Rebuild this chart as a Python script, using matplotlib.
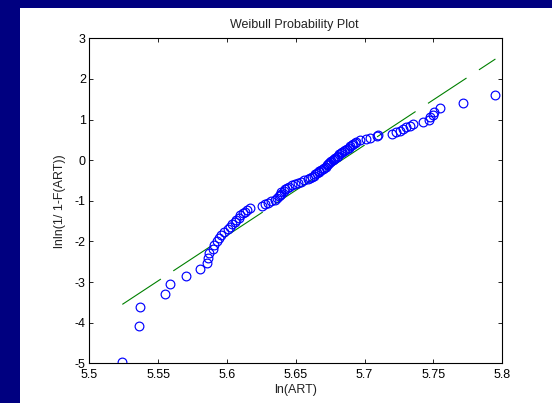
import matplotlib
matplotlib.use("Agg")
import matplotlib.pyplot as plt
from matplotlib.patches import Rectangle

plt.rcParams['font.family'] = ['Liberation Sans', 'DejaVu Sans']
plt.rcParams['axes.unicode_minus'] = False
plt.rcParams['lines.scale_dashes'] = False

# ln(ART) sorted sample values
ln_art = [5.5240, 5.5363, 5.5370, 5.5552, 5.5586, 5.5705, 5.5806, 5.5857, 5.5864, 5.5868,
          5.5895, 5.5909, 5.5924, 5.5942, 5.5960, 5.5982, 5.6004, 5.6022, 5.6037, 5.6055,
          5.6069, 5.6084, 5.6098, 5.6116, 5.6131, 5.6149, 5.6164, 5.6251, 5.6276, 5.6298,
          5.6323, 5.6352, 5.6367, 5.6378, 5.6385, 5.6390, 5.6396, 5.6411, 5.6422, 5.6436,
          5.6454, 5.6472, 5.6494, 5.6516, 5.6538, 5.6560, 5.6585, 5.6603, 5.6618, 5.6632,
          5.6643, 5.6654, 5.6665, 5.6672, 5.6683, 5.6694, 5.6705, 5.6716, 5.6724, 5.6732,
          5.6739, 5.6748, 5.6756, 5.6767, 5.6777, 5.6788, 5.6796, 5.6807, 5.6817, 5.6828,
          5.6839, 5.6850, 5.6861, 5.6872, 5.6883, 5.6894, 5.6905, 5.6915, 5.6930, 5.6937,
          5.6966, 5.7010, 5.7039, 5.7090, 5.7097, 5.7202, 5.7228, 5.7257, 5.7279, 5.7304,
          5.7330, 5.7351, 5.7424, 5.7468, 5.7478, 5.7493, 5.7507, 5.7547, 5.7717, 5.7949]

# lnln(1/(1-F)) values
lnln = [-4.962, -4.070, -3.602, -3.282, -3.038, -2.840, -2.673, -2.528, -2.401, -2.287,
        -2.183, -2.088, -2.001, -1.919, -1.843, -1.772, -1.704, -1.640, -1.579, -1.521,
        -1.466, -1.413, -1.361, -1.312, -1.265, -1.218, -1.174, -1.131, -1.089, -1.048,
        -1.008, -0.969, -0.931, -0.894, -0.858, -0.822, -0.788, -0.753, -0.720, -0.687,
        -0.654, -0.622, -0.591, -0.560, -0.529, -0.499, -0.469, -0.439, -0.410, -0.381,
        -0.352, -0.324, -0.295, -0.267, -0.240, -0.212, -0.184, -0.157, -0.129, -0.102,
        -0.075, -0.048, -0.021, 0.006, 0.033, 0.060, 0.088, 0.115, 0.142, 0.170,
        0.197, 0.225, 0.253, 0.281, 0.309, 0.338, 0.367, 0.397, 0.426, 0.457,
        0.488, 0.519, 0.551, 0.584, 0.618, 0.653, 0.689, 0.726, 0.765, 0.806,
        0.849, 0.894, 0.943, 0.996, 1.054, 1.119, 1.194, 1.285, 1.406, 1.603]

# fitted reference line end points
fit_x = [5.524, 5.795]
fit_y = [-3.55, 2.49]

x_ticks = [5.5, 5.55, 5.6, 5.65, 5.7, 5.75, 5.8]
x_ticklabels = ['5.5', '5.55', '5.6', '5.65', '5.7', '5.75', '5.8']
y_ticks = [-5, -4, -3, -2, -1, 0, 1, 2, 3]
y_ticklabels = ['-5', '-4', '-3', '-2', '-1', '0', '1', '2', '3']

W, H = 552, 403
fig = plt.figure(figsize=(W / 100, H / 100), dpi=100, facecolor='#000080')
fig.patches.append(Rectangle((20 / W, 0), 1 - 20 / W, 1 - 8 / H,
                             transform=fig.transFigure, facecolor='white',
                             edgecolor='none', zorder=-10))

left, right, top, bottom = 89.3, 502.3, 38.3, 363.3
ax = fig.add_axes([left / W, 1 - bottom / H, (right - left) / W, (bottom - top) / H])
ax.set_zorder(5)
ax.set_facecolor('white')

ax.plot(fit_x, fit_y, color='#008000', linewidth=0.8, dashes=(33.2, 10.7))
ax.plot(ln_art, lnln, linestyle='none', marker='o', markersize=6.3,
        markerfacecolor='none', markeredgecolor='#0000ff', markeredgewidth=0.85)

ax.set_xlim(5.5, 5.8)
ax.set_ylim(-5, 3)
ax.set_xticks(x_ticks)
ax.set_xticklabels(x_ticklabels)
ax.set_yticks(y_ticks)
ax.set_yticklabels(y_ticklabels)
ax.tick_params(direction='in', length=3.2, width=0.6, top=True, right=True,
               labelsize=9, colors='black')
ax.tick_params(axis='x', pad=4)
ax.tick_params(axis='y', pad=2.5)
for s in ax.spines.values():
    s.set_linewidth(0.8)
    s.set_color('black')

fig.text(294 / W, 1 - 28.2 / H, 'Weibull Probability Plot', ha='center', va='baseline',
         fontsize=9, color='#222222')
fig.text(296 / W, 1 - 393.5 / H, 'ln(ART)', ha='center', va='baseline', fontsize=9,
         color='#222222')
fig.text(60.5 / W, 1 - 200.8 / H, 'lnln(1/ 1-F(ART))', ha='center', va='center',
         rotation=90, fontsize=9, color='#222222')

fig.savefig('out.png', dpi=100, facecolor=fig.get_facecolor())
